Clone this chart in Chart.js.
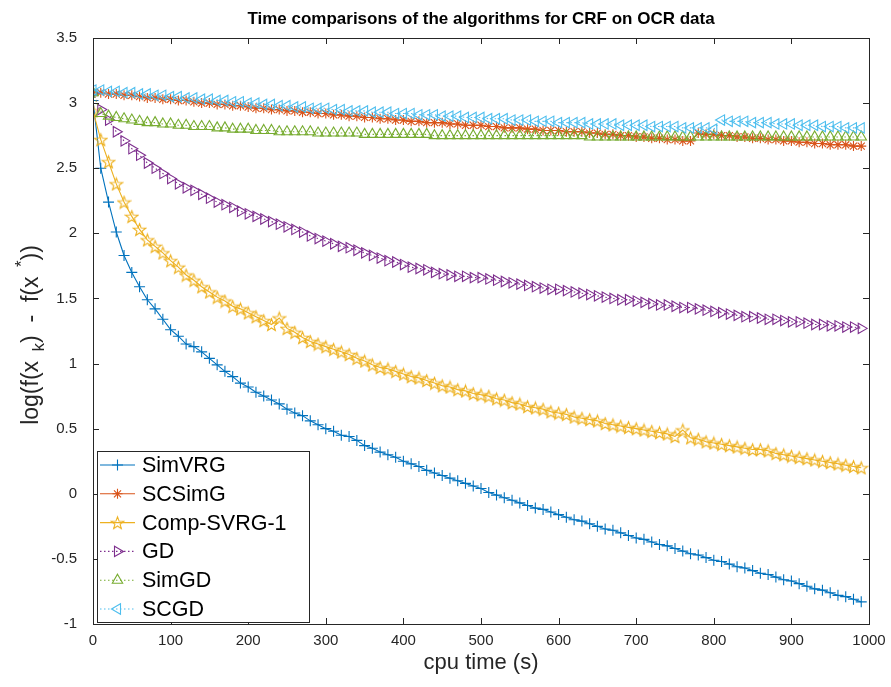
<!DOCTYPE html>
<html>
<head>
<meta charset="utf-8">
<script src="https://cdn.jsdelivr.net/npm/chart.js@4.4.1/dist/chart.umd.min.js"></script>
<style>
  html, body { margin: 0; padding: 0; background: #fff; }
  #wrap { width: 891px; height: 687px; }
</style>
</head>
<body>
<div id="wrap"><canvas id="chart" width="891" height="687"></canvas></div>
<script>
// Datos (cpu time en s, log(f(x_k) - f(x*)))
const times = [0,10,20,30,40,50,60,70,80,90,100,110,120,130,140,150,160,170,180,190,
  200,210,220,230,240,250,260,270,280,290,300,310,320,330,340,350,360,370,380,390,
  400,410,420,430,440,450,460,470,480,490,500,510,520,530,540,550,560,570,580,590,
  600,610,620,630,640,650,660,670,680,690,700,710,720,730,740,750,760,770,780,790,
  800,810,820,830,840,850,860,870,880,890,900,910,920,930,940,950,960,970,980,990];

const simVRG = [3.02,2.50,2.24,2.01,1.83,1.70,1.59,1.49,1.42,1.34,
  1.26,1.21,1.15,1.13,1.09,1.04,0.99,0.94,0.90,0.85,
  0.82,0.78,0.75,0.72,0.69,0.65,0.62,0.60,0.56,0.53,
  0.50,0.48,0.45,0.44,0.41,0.37,0.35,0.32,0.30,0.28,
  0.25,0.23,0.21,0.18,0.16,0.14,0.12,0.10,0.08,0.06,
  0.04,0.01,-0.01,-0.03,-0.05,-0.07,-0.09,-0.11,-0.12,-0.14,
  -0.16,-0.18,-0.20,-0.21,-0.23,-0.25,-0.27,-0.28,-0.30,-0.32,
  -0.34,-0.35,-0.37,-0.39,-0.40,-0.42,-0.44,-0.46,-0.47,-0.49,
  -0.51,-0.52,-0.54,-0.56,-0.57,-0.59,-0.61,-0.62,-0.64,-0.66,
  -0.67,-0.69,-0.71,-0.73,-0.74,-0.76,-0.78,-0.79,-0.81,-0.83];

const scSimG = [3.08,3.08,3.07,3.07,3.06,3.06,3.05,3.04,3.04,3.03,
  3.03,3.02,3.02,3.01,3.00,3.00,2.99,2.99,2.98,2.98,
  2.97,2.96,2.96,2.95,2.95,2.94,2.94,2.93,2.93,2.92,
  2.92,2.91,2.91,2.90,2.90,2.89,2.89,2.88,2.88,2.87,
  2.87,2.86,2.86,2.85,2.85,2.85,2.84,2.84,2.83,2.83,
  2.83,2.82,2.82,2.81,2.81,2.81,2.80,2.80,2.79,2.79,
  2.79,2.78,2.78,2.78,2.77,2.77,2.76,2.76,2.75,2.75,
  2.74,2.74,2.73,2.73,2.72,2.72,2.71,2.71,2.77,2.76,
  2.76,2.75,2.75,2.74,2.74,2.73,2.73,2.72,2.72,2.71,
  2.71,2.70,2.70,2.69,2.69,2.68,2.68,2.68,2.67,2.67];

const compSVRG1 = [2.94,2.72,2.55,2.38,2.24,2.13,2.03,1.95,1.90,1.85,
  1.79,1.74,1.68,1.64,1.59,1.55,1.51,1.48,1.44,1.42,
  1.39,1.36,1.33,1.30,1.35,1.27,1.24,1.20,1.17,1.15,
  1.13,1.11,1.09,1.07,1.04,1.02,0.99,0.97,0.96,0.94,
  0.92,0.90,0.89,0.87,0.85,0.83,0.82,0.80,0.79,0.77,
  0.76,0.75,0.73,0.72,0.70,0.69,0.67,0.66,0.65,0.63,
  0.62,0.61,0.59,0.58,0.57,0.56,0.54,0.53,0.52,0.51,
  0.50,0.49,0.48,0.47,0.46,0.44,0.49,0.43,0.42,0.40,
  0.39,0.38,0.37,0.36,0.35,0.34,0.34,0.33,0.31,0.30,
  0.29,0.28,0.27,0.26,0.25,0.24,0.23,0.22,0.21,0.20];

const gd = [3.08,2.95,2.87,2.78,2.71,2.65,2.60,2.54,2.50,2.46,
  2.42,2.38,2.35,2.33,2.30,2.27,2.24,2.22,2.20,2.17,
  2.15,2.13,2.11,2.09,2.07,2.05,2.03,2.01,1.98,1.96,
  1.94,1.92,1.90,1.89,1.87,1.85,1.83,1.81,1.79,1.78,
  1.76,1.74,1.73,1.72,1.70,1.69,1.68,1.67,1.67,1.66,
  1.66,1.65,1.64,1.63,1.62,1.61,1.60,1.59,1.58,1.57,
  1.57,1.56,1.55,1.54,1.53,1.52,1.51,1.50,1.49,1.49,
  1.48,1.47,1.46,1.45,1.45,1.44,1.43,1.43,1.42,1.41,
  1.40,1.39,1.38,1.37,1.36,1.36,1.35,1.34,1.34,1.33,
  1.32,1.32,1.31,1.30,1.30,1.29,1.29,1.28,1.28,1.27];

const simGD = [3.08,2.92,2.90,2.89,2.88,2.87,2.86,2.85,2.85,2.84,
  2.84,2.83,2.83,2.82,2.82,2.82,2.81,2.81,2.80,2.80,
  2.80,2.79,2.79,2.79,2.78,2.78,2.78,2.78,2.78,2.77,
  2.77,2.77,2.77,2.77,2.77,2.76,2.76,2.76,2.76,2.76,
  2.76,2.76,2.76,2.76,2.75,2.75,2.75,2.75,2.75,2.75,
  2.75,2.75,2.75,2.75,2.75,2.75,2.75,2.75,2.75,2.75,
  2.75,2.75,2.75,2.75,2.74,2.74,2.74,2.74,2.74,2.74,
  2.74,2.74,2.74,2.74,2.74,2.74,2.74,2.74,2.74,2.74,
  2.74,2.74,2.74,2.74,2.74,2.74,2.74,2.74,2.74,2.74,
  2.74,2.74,2.74,2.74,2.74,2.74,2.74,2.74,2.74,2.74];

const scGD = [3.10,3.10,3.09,3.09,3.08,3.08,3.07,3.07,3.06,3.06,
  3.05,3.05,3.04,3.04,3.03,3.03,3.02,3.02,3.01,3.01,
  3.00,3.00,2.99,2.99,2.98,2.98,2.97,2.97,2.96,2.96,
  2.96,2.95,2.95,2.94,2.94,2.94,2.93,2.93,2.93,2.92,
  2.92,2.92,2.91,2.91,2.91,2.90,2.90,2.90,2.89,2.89,
  2.89,2.88,2.88,2.88,2.87,2.87,2.87,2.86,2.86,2.86,
  2.85,2.85,2.85,2.85,2.84,2.84,2.84,2.84,2.83,2.83,
  2.83,2.83,2.82,2.82,2.82,2.82,2.81,2.81,2.81,2.81,
  2.80,2.87,2.86,2.86,2.86,2.85,2.85,2.85,2.84,2.84,
  2.84,2.83,2.83,2.83,2.82,2.82,2.82,2.81,2.81,2.81];

const seriesNames = ['SimVRG', 'SCSimG', 'Comp-SVRG-1', 'GD', 'SimGD', 'SCGD'];
const seriesValues = [simVRG, scSimG, compSVRG1, gd, simGD, scGD];
const xTicks = [0, 100, 200, 300, 400, 500, 600, 700, 800, 900, 1000];

const chartTitle = 'Time comparisons of the algorithms for CRF on OCR data';
const xTitle = 'cpu time (s)';

// Estilos (colores MATLAB por defecto)
const colores = ['#0072BD', '#D95319', '#EDB120', '#7E2F8E', '#77AC30', '#4DBEEE'];
const FONT = '"Liberation Sans", Arial, Helvetica, sans-serif';
const AXIS_COLOR = '#262626';

// Estrella de 5 puntas (pentagram) como imagen para el marcador
function crearPentagrama(color, size) {
  const c = document.createElement('canvas');
  c.width = size; c.height = size;
  const g = c.getContext('2d');
  const cx = size / 2, cy = size / 2 + 0.8;
  const rOut = size / 2 - 1, rIn = rOut * 0.42;
  g.beginPath();
  for (let i = 0; i < 10; i++) {
    const r = i % 2 === 0 ? rOut : rIn;
    const a = -Math.PI / 2 + i * Math.PI / 5;
    const px = cx + r * Math.cos(a), py = cy + r * Math.sin(a);
    if (i === 0) g.moveTo(px, py); else g.lineTo(px, py);
  }
  g.closePath();
  g.strokeStyle = color;
  g.lineWidth = 1.1;
  g.stroke();
  return c;
}

const marcadores = [
  { style: 'cross', rotation: 0, radius: 5.5 },
  { style: 'star', rotation: 0, radius: 5 },
  { style: crearPentagrama(colores[2], 15), rotation: 0, radius: 7 },
  { style: 'triangle', rotation: 90, radius: 6 },
  { style: 'triangle', rotation: 0, radius: 6 },
  { style: 'triangle', rotation: -90, radius: 6 }
];
const punteada = [false, false, false, true, true, true];

const datasets = seriesNames.map((name, i) => ({
  label: name,
  data: times.map((t, k) => ({ x: t, y: seriesValues[i][k] })),
  borderColor: colores[i],
  backgroundColor: 'rgba(0,0,0,0)',
  borderWidth: 1.1,
  borderDash: punteada[i] ? [1.5, 2.5] : [],
  pointStyle: marcadores[i].style,
  pointRotation: marcadores[i].rotation,
  pointRadius: marcadores[i].radius,
  pointBorderColor: colores[i],
  pointBackgroundColor: 'rgba(0,0,0,0)',
  pointBorderWidth: 1.1,
  tension: 0,
  fill: false,
  order: 5 - i
}));

// Marco, ticks hacia dentro, titulos y leyenda
const marcoPlugin = {
  id: 'marco',
  afterDraw(chart) {
    const { ctx, chartArea: a, scales } = chart;
    ctx.save();
    ctx.strokeStyle = AXIS_COLOR;
    ctx.lineWidth = 1;
    ctx.strokeRect(Math.round(a.left) + 0.5, Math.round(a.top) + 0.5,
      Math.round(a.right - a.left), Math.round(a.bottom - a.top));

    const len = 6;
    ctx.beginPath();
    scales.x.ticks.forEach(tk => {
      const px = Math.round(scales.x.getPixelForValue(tk.value)) + 0.5;
      ctx.moveTo(px, a.bottom); ctx.lineTo(px, a.bottom - len);
      ctx.moveTo(px, a.top); ctx.lineTo(px, a.top + len);
    });
    scales.y.ticks.forEach(tk => {
      const py = Math.round(scales.y.getPixelForValue(tk.value)) + 0.5;
      ctx.moveTo(a.left, py); ctx.lineTo(a.left + len, py);
      ctx.moveTo(a.right, py); ctx.lineTo(a.right - len, py);
    });
    ctx.stroke();

    // Titulo
    ctx.fillStyle = '#000';
    ctx.textAlign = 'center';
    ctx.textBaseline = 'middle';
    ctx.font = 'bold 17px ' + FONT;
    ctx.fillText(chartTitle, (a.left + a.right) / 2, 19);

    // Titulo eje x
    ctx.fillStyle = AXIS_COLOR;
    ctx.font = '22px ' + FONT;
    ctx.fillText(xTitle, (a.left + a.right) / 2, 663);

    // Titulo eje y con subindice y superindice
    const partes = [
      { t: 'log(f(x', size: 23, dy: 0 },
      { t: '  k', size: 17, dy: 7 },
      { t: ')  -  f(x', size: 23, dy: 0 },
      { t: '  *', size: 17, dy: -10 },
      { t: '))', size: 23, dy: 0 }
    ];
    let total = 0;
    partes.forEach(p => { ctx.font = p.size + 'px ' + FONT; p.w = ctx.measureText(p.t).width; total += p.w; });
    ctx.translate(32, 335);
    ctx.rotate(-Math.PI / 2);
    ctx.textAlign = 'left';
    let cx = -total / 2;
    partes.forEach(p => {
      ctx.font = p.size + 'px ' + FONT;
      ctx.fillText(p.t, cx, p.dy);
      cx += p.w;
    });
    ctx.restore();

    // Leyenda
    ctx.save();
    const box = { x: 97.5, y: 451.5, w: 212, h: 171 };
    ctx.fillStyle = '#fff';
    ctx.fillRect(box.x, box.y, box.w, box.h);
    ctx.strokeStyle = AXIS_COLOR;
    ctx.lineWidth = 1;
    ctx.strokeRect(box.x, box.y, box.w, box.h);
    seriesNames.forEach((name, i) => {
      const y = 465 + i * 28.8;
      ctx.strokeStyle = colores[i];
      ctx.lineWidth = 1.1;
      ctx.setLineDash(punteada[i] ? [1.5, 2.5] : []);
      ctx.beginPath();
      ctx.moveTo(100, y); ctx.lineTo(135, y);
      ctx.stroke();
      ctx.setLineDash([]);
      ctx.fillStyle = 'rgba(0,0,0,0)';
      ctx.strokeStyle = colores[i];
      Chart.helpers.drawPoint(ctx, {
        pointStyle: marcadores[i].style,
        rotation: marcadores[i].rotation,
        radius: marcadores[i].radius,
        borderWidth: 1.1
      }, 117.5, y);
      ctx.fillStyle = '#000';
      ctx.font = '21.5px ' + FONT;
      ctx.textAlign = 'left';
      ctx.textBaseline = 'middle';
      ctx.fillText(name, 142, y + 1);
    });
    ctx.restore();
  }
};

const etiqueta = v => String(Math.round(v * 10) / 10);

new Chart(document.getElementById('chart'), {
  type: 'line',
  data: { datasets },
  options: {
    responsive: false,
    animation: false,
    events: [],
    layout: { padding: { top: 38, right: 22, bottom: 0, left: 0 } },
    plugins: { legend: { display: false }, title: { display: false }, tooltip: { enabled: false } },
    scales: {
      x: {
        type: 'linear',
        min: 0, max: 1000,
        afterBuildTicks: s => { s.ticks = xTicks.map(v => ({ value: v })); },
        afterFit: s => { s.height = 63; },
        grid: { display: false },
        border: { display: false },
        ticks: { color: AXIS_COLOR, font: { family: FONT, size: 15 }, padding: 0, maxRotation: 0, callback: etiqueta }
      },
      y: {
        min: -1, max: 3.5,
        afterFit: s => { s.width = 93; },
        grid: { display: false },
        border: { display: false },
        ticks: { stepSize: 0.5, color: AXIS_COLOR, font: { family: FONT, size: 15 }, padding: 8, callback: etiqueta }
      }
    }
  },
  plugins: [marcoPlugin]
});
</script>
</body>
</html>
